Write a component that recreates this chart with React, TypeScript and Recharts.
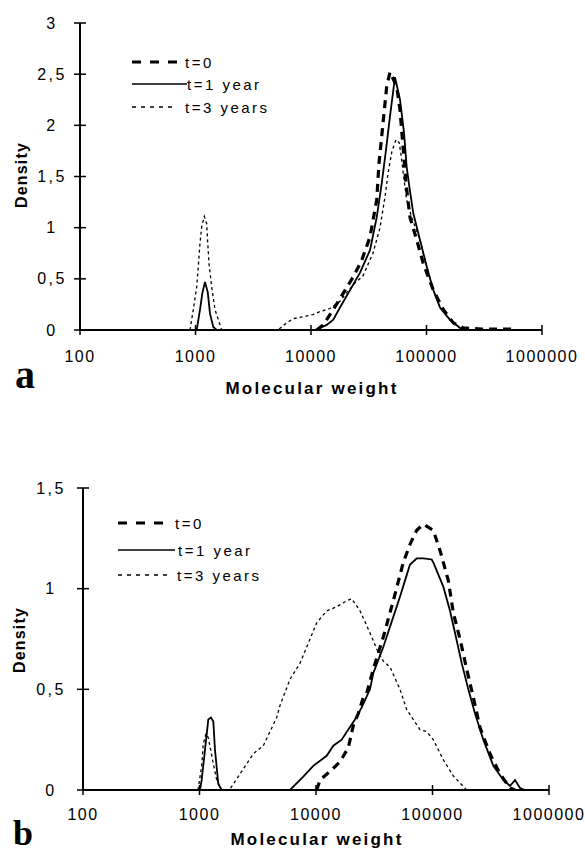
import React from 'react';
import { LineChart, Line, XAxis, YAxis, Legend } from 'recharts';

// ---------- shared labels ----------
const X_TICKS = [100, 1000, 10000, 100000, 1000000];
const A_Y_TICKS = [0, 0.5, 1, 1.5, 2, 2.5, 3];
const B_Y_TICKS = [0, 0.5, 1, 1.5];
const SERIES_NAMES = ['t=0', 't=1 year', 't=3 years'];
const X_TITLE = 'Molecular weight';
const Y_TITLE = 'Density';

// ---------- panel a ----------
const A_T0_MW = [11210, 12780, 15600, 19040, 23240, 27480, 32420, 37060, 38790, 41760, 45230, 48310, 55210, 58960, 62980, 66460, 71970, 82290, 93830, 114500, 139800, 170600, 208200, 300000, 450000, 561000];
const A_T0_D = [0, 0.05, 0.2, 0.36, 0.52, 0.68, 0.91, 1.27, 1.63, 1.99, 2.38, 2.52, 2.38, 2.15, 1.76, 1.43, 1.1, 0.88, 0.65, 0.39, 0.2, 0.07, 0.02, 0.01, 0.01, 0.01];

const A_T1_MW = [1024, 1094, 1146, 1209, 1276, 1335, 1426, 1526, 10830, 11960, 13680, 15600, 17820, 21770, 26560, 32420, 37060, 40930, 44610, 48310, 53360, 58960, 63870, 67400, 71000, 76860, 87870, 100400, 114500, 130900, 159800, 195000, 222900];
const A_T1_D = [0, 0.2, 0.36, 0.47, 0.37, 0.16, 0.03, 0, 0, 0.02, 0.05, 0.1, 0.22, 0.39, 0.56, 0.78, 1.1, 1.43, 1.76, 2.09, 2.47, 2.25, 1.93, 1.59, 1.4, 1.14, 0.88, 0.62, 0.39, 0.22, 0.1, 0.02, 0];

const A_T3_MW = [896, 957, 1024, 1057, 1094, 1132, 1192, 1250, 1276, 1309, 1381, 1475, 1576, 1686, 5180, 6160, 6990, 8520, 10410, 11960, 14610, 17830, 20500, 24040, 28200, 34410, 39580, 43720, 46420, 50270, 54450, 58150, 61000, 63870, 67400, 74460, 87870, 100400, 114500, 130900, 159800, 195000, 222900];
const A_T3_D = [0, 0.2, 0.42, 0.62, 0.85, 1.01, 1.11, 1.04, 0.85, 0.65, 0.42, 0.2, 0.1, 0, 0, 0.07, 0.11, 0.13, 0.15, 0.18, 0.21, 0.28, 0.37, 0.46, 0.53, 0.75, 1.0, 1.3, 1.53, 1.75, 1.86, 1.83, 1.66, 1.47, 1.27, 1.1, 0.88, 0.62, 0.39, 0.22, 0.1, 0.02, 0];

// ---------- panel b ----------
const B_T0_MW = [10140, 10820, 13640, 16070, 18940, 20900, 23070, 25470, 27240, 31030, 37820, 46070, 56150, 64110, 73180, 83370, 101600, 116000, 136700, 150900, 172200, 196600, 224000, 255700, 311600, 379600, 462800, 510800];
const B_T0_D = [0, 0.05, 0.1, 0.14, 0.21, 0.32, 0.38, 0.46, 0.48, 0.6, 0.76, 0.94, 1.13, 1.22, 1.29, 1.32, 1.29, 1.19, 1.04, 0.88, 0.75, 0.6, 0.46, 0.31, 0.18, 0.08, 0.01, 0];

const B_T1_MW = [1010, 1044, 1115, 1190, 1255, 1314, 1358, 1450, 1551, 5983, 7780, 9480, 12350, 14080, 16620, 18940, 21610, 24690, 29070, 31030, 37820, 46070, 52600, 58050, 64110, 73180, 83370, 98420, 101600, 123800, 141300, 156100, 178100, 203000, 231700, 273000, 332600, 405300, 462800, 510800, 563700, 622300];
const B_T1_D = [0, 0.05, 0.2, 0.35, 0.36, 0.34, 0.2, 0.03, 0, 0, 0.066, 0.12, 0.17, 0.22, 0.25, 0.3, 0.35, 0.41, 0.5, 0.58, 0.71, 0.86, 0.96, 1.04, 1.12, 1.15, 1.15, 1.145, 1.13, 1.01, 0.89, 0.78, 0.63, 0.5, 0.38, 0.25, 0.12, 0.05, 0.02, 0.05, 0.01, 0];

const B_T3_MW = [971, 1044, 1078, 1137, 1190, 1314, 1405, 1551, 1803, 2226, 2896, 3529, 4600, 4909, 5983, 7291, 8323, 10140, 12350, 15060, 18340, 20250, 23870, 29070, 33190, 37820, 43170, 52600, 60040, 68430, 78100, 89180, 101600, 123800, 150900, 196600];
const B_T3_D = [0, 0.12, 0.23, 0.28, 0.26, 0.13, 0.05, 0, 0, 0.08, 0.18, 0.22, 0.36, 0.42, 0.55, 0.63, 0.71, 0.83, 0.89, 0.91, 0.94, 0.95, 0.89, 0.78, 0.7, 0.64, 0.61, 0.5, 0.4, 0.35, 0.3, 0.29, 0.25, 0.15, 0.07, 0];

const zip = (xs: number[], ys: number[]) => xs.map((x, i) => ({ mw: x, density: ys[i] }));

const LINE_STYLES = [
  { strokeWidth: 3.2, dash: '8 6', legendDash: '9 9' },
  { strokeWidth: 1.8, dash: undefined as string | undefined, legendDash: undefined as string | undefined },
  { strokeWidth: 1.3, dash: '3 3', legendDash: '4 5' },
];

const SANS = '"Liberation Sans", Arial, sans-serif';
const SERIF = '"Liberation Serif", "Times New Roman", serif';

const fmt = (v: number) => String(v).replace('.', ',');

function XTick(props: any) {
  const { x, y, payload, labelOffset } = props;
  return (
    <g>
      <line x1={x} x2={x} y1={y - 5} y2={y + 5} stroke="#000" strokeWidth={1.5} />
      <text x={x} y={y + labelOffset} textAnchor="middle" dominantBaseline="central" fontFamily={SANS} fontSize={16} letterSpacing={1.5} fill="#000">
        {payload.value}
      </text>
    </g>
  );
}

function YTick(props: any) {
  const { x, y, payload, labelOffset } = props;
  return (
    <g>
      <line x1={x - 6} x2={x + 6} y1={y} y2={y} stroke="#000" strokeWidth={1.5} />
      <text x={x - labelOffset} y={y} textAnchor="middle" dominantBaseline="central" fontFamily={SANS} fontSize={16} letterSpacing={2.5} fill="#000">
        {fmt(payload.value)}
      </text>
    </g>
  );
}

function LegendBox(props: { rows: number[]; lineEnds: number[]; textStarts: number[] }) {
  const { rows, lineEnds, textStarts } = props;
  return (
    <svg width={160} height={80} style={{ display: 'block', overflow: 'visible' }}>
      {SERIES_NAMES.map((name, i) => (
        <g key={name}>
          <line x1={2} x2={lineEnds[i]} y1={rows[i]} y2={rows[i]} stroke="#000" strokeWidth={i === 0 ? 3.2 : i === 1 ? 1.6 : 1.3} strokeDasharray={LINE_STYLES[i].legendDash} />
          <text x={textStarts[i]} y={rows[i]} dominantBaseline="central" fontFamily={SANS} fontSize={15} letterSpacing={2.5} fill="#000">
            {name}
          </text>
        </g>
      ))}
    </svg>
  );
}

type PanelProps = {
  series: { mw: number; density: number }[][];
  height: number;
  margin: { top: number; right: number; bottom: number; left: number };
  yMax: number;
  yTicks: number[];
  xLabelOffset: number;
  yLabelOffset: number;
  legendPos: { left: number; top: number };
  legendRows: number[];
  legendLineEnds: number[];
  legendTextStarts: number[];
};

function Panel(p: PanelProps) {
  return (
    <LineChart width={585} height={p.height} margin={p.margin}>
      <XAxis
        dataKey="mw"
        type="number"
        scale="log"
        domain={[100, 1000000]}
        ticks={X_TICKS}
        interval={0}
        allowDataOverflow
        height={1}
        tickSize={0}
        tickMargin={0}
        tickLine={false}
        axisLine={{ stroke: '#000', strokeWidth: 2 }}
        tick={(tp: any) => <XTick {...tp} labelOffset={p.xLabelOffset} />}
      />
      <YAxis
        type="number"
        domain={[0, p.yMax]}
        ticks={p.yTicks}
        interval={0}
        allowDataOverflow
        width={1}
        tickSize={0}
        tickMargin={0}
        tickLine={false}
        axisLine={{ stroke: '#000', strokeWidth: 2 }}
        tick={(tp: any) => <YTick {...tp} labelOffset={p.yLabelOffset} />}
      />
      <Legend
        layout="horizontal"
        verticalAlign="middle"
        align="center"
        wrapperStyle={{ left: p.legendPos.left, top: p.legendPos.top, width: 160, height: 80 }}
        content={() => <LegendBox rows={p.legendRows} lineEnds={p.legendLineEnds} textStarts={p.legendTextStarts} />}
      />
      {p.series.map((d, i) => (
        <Line
          key={SERIES_NAMES[i]}
          name={SERIES_NAMES[i]}
          data={d}
          dataKey="density"
          type="linear"
          stroke="#000"
          strokeWidth={LINE_STYLES[i].strokeWidth}
          strokeDasharray={LINE_STYLES[i].dash}
          dot={false}
          activeDot={false}
          isAnimationActive={false}
        />
      ))}
    </LineChart>
  );
}

export default function App() {
  const seriesA = [zip(A_T0_MW, A_T0_D), zip(A_T1_MW, A_T1_D), zip(A_T3_MW, A_T3_D)];
  const seriesB = [zip(B_T0_MW, B_T0_D), zip(B_T1_MW, B_T1_D), zip(B_T3_MW, B_T3_D)];
  return (
    <div style={{ position: 'absolute', left: 0, top: 0, width: 585, height: 855, background: '#fff', overflow: 'hidden' }}>
      <div style={{ position: 'absolute', left: 0, top: 0 }}>
        <Panel
          series={seriesA}
          height={400}
          margin={{ top: 23, right: 43, bottom: 69, left: 79 }}
          yMax={3}
          yTicks={A_Y_TICKS}
          xLabelOffset={26}
          yLabelOffset={28}
          legendPos={{ left: 130, top: 50 }}
          legendRows={[12, 34, 57]}
          legendLineEnds={[50, 57, 47]}
          legendTextStarts={[55, 57, 55]}
        />
      </div>
      <div style={{ position: 'absolute', left: 0, top: 420 }}>
        <Panel
          series={seriesB}
          height={435}
          margin={{ top: 68, right: 36, bottom: 64, left: 82 }}
          yMax={1.5}
          yTicks={B_Y_TICKS}
          xLabelOffset={24}
          yLabelOffset={32}
          legendPos={{ left: 116, top: 510 - 420 }}
          legendRows={[13, 40, 65]}
          legendLineEnds={[54, 59, 51]}
          legendTextStarts={[59, 62, 61]}
        />
      </div>
      <svg width={585} height={855} style={{ position: 'absolute', left: 0, top: 0, pointerEvents: 'none' }}>
        <text x={15} y={388} fontFamily={SERIF} fontWeight="bold" fontSize={40} fill="#000">a</text>
        <text x={13} y={845} fontFamily={SERIF} fontWeight="bold" fontSize={36} fill="#000">b</text>
        <text x={312} y={394} textAnchor="middle" fontFamily={SANS} fontWeight="bold" fontSize={17} letterSpacing={2.2} fill="#000">{X_TITLE}</text>
        <text x={317} y={845} textAnchor="middle" fontFamily={SANS} fontWeight="bold" fontSize={17} letterSpacing={2.2} fill="#000">{X_TITLE}</text>
        <text x={27} y={175} transform="rotate(-90 27 175)" textAnchor="middle" fontFamily={SANS} fontWeight="bold" fontSize={16} letterSpacing={1.2} fill="#000">{Y_TITLE}</text>
        <text x={25} y={640} transform="rotate(-90 25 640)" textAnchor="middle" fontFamily={SANS} fontWeight="bold" fontSize={16} letterSpacing={1.2} fill="#000">{Y_TITLE}</text>
      </svg>
    </div>
  );
}
